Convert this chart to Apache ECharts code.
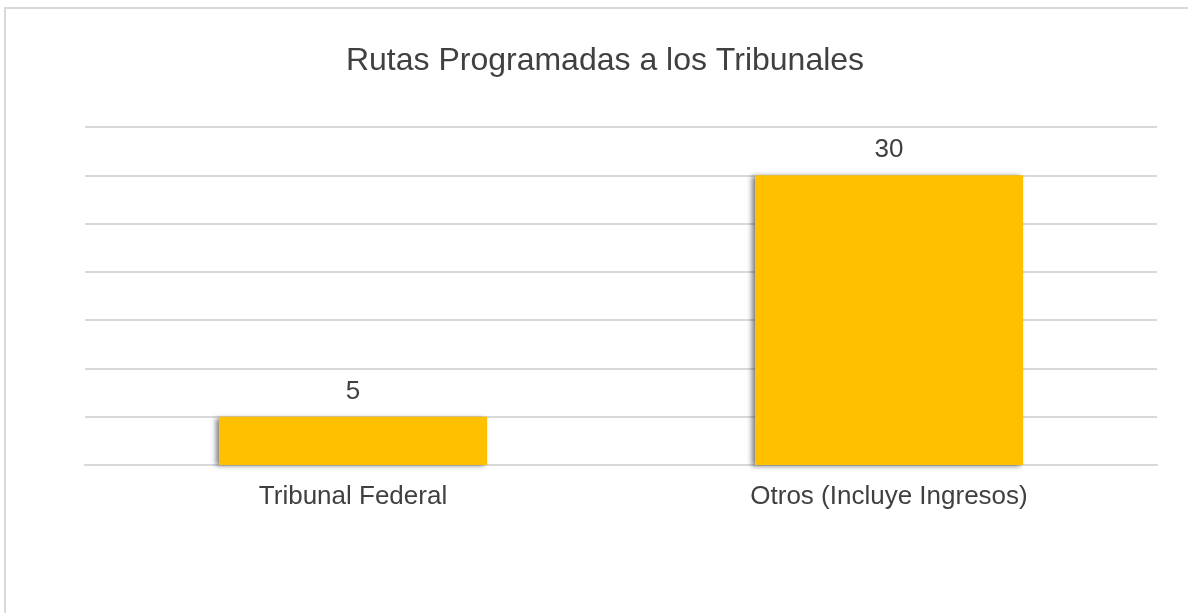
<!DOCTYPE html>
<html>
<head>
<meta charset="utf-8">
<script src="https://cdn.jsdelivr.net/npm/echarts@6/dist/echarts.min.js"></script>
<style>
  html, body { margin: 0; padding: 0; background: #fff; }
  #frame { position: absolute; left: 4px; top: 7px; width: 1300px; height: 700px;
    border-top: 2px solid #d9d9d9; border-left: 2px solid #d9d9d9; }
  #chart { position: absolute; left: 0; top: 0; width: 1188px; height: 613px; }
</style>
</head>
<body>
<div id="frame"></div>
<div id="chart"></div>
<script>
var categories = ['Tribunal Federal', 'Otros (Incluye Ingresos)'];
var values = [5, 30];
var titleText = 'Rutas Programadas a los Tribunales';

var myChart = echarts.init(document.getElementById('chart'));
var option = {
	animation: false,
	title: {
		text: titleText,
		left: 600,
		textAlign: 'center',
		top: 40,
		textStyle: {
			fontFamily: 'Liberation Sans',
			fontSize: 32,
			fontWeight: 'normal',
			color: '#404040'
		}
	},
	grid: {
		left: 85,
		right: 31,
		top: 127,
		bottom: 148
	},
	xAxis: {
		type: 'category',
		data: categories,
		axisLine: { lineStyle: { color: '#d9d9d9', width: 2 } },
		axisTick: { show: false },
		axisLabel: {
			margin: 19,
			fontFamily: 'Liberation Sans',
			fontSize: 26,
			color: '#404040'
		}
	},
	yAxis: {
		type: 'value',
		min: 0,
		max: 35,
		interval: 5,
		axisLabel: { show: false },
		axisLine: { show: false },
		axisTick: { show: false },
		splitLine: { lineStyle: { color: '#d9d9d9', width: 2 } }
	},
	series: [{
		type: 'bar',
		data: values,
		barWidth: '50%',
		itemStyle: {
			color: '#ffc000',
			shadowColor: 'rgba(0,0,0,0.5)',
			shadowBlur: 5,
			shadowOffsetX: -3,
			shadowOffsetY: 1
		},
		label: {
			show: true,
			position: 'top',
			distance: 12,
			fontFamily: 'Liberation Sans',
			fontSize: 26,
			color: '#404040'
		}
	}]
};
myChart.setOption(option);
</script>
</body>
</html>
